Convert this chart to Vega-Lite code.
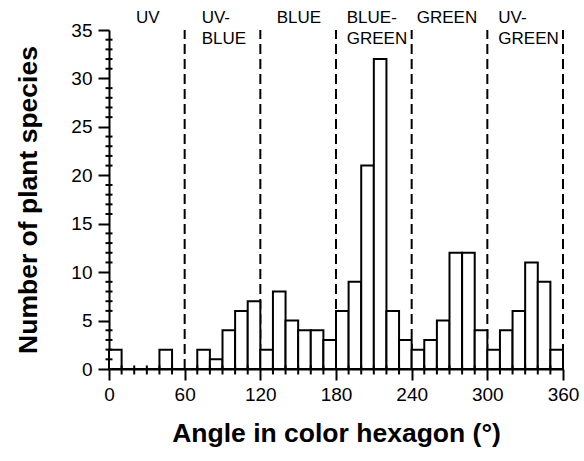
{
  "$schema": "https://vega.github.io/schema/vega-lite/v6.json",
  "width": 454,
  "height": 339,
  "autosize": "none",
  "padding": {"left": 109, "top": 30, "right": 21, "bottom": 92},
  "background": "white",
  "config": {
    "view": {"stroke": null},
    "font": "Liberation Sans",
    "axis": {
      "tickSize": 11, "tickColor": "black", "tickWidth": 2,
      "domainColor": "black", "domainWidth": 2,
      "labelFontSize": 19, "labelColor": "black", "labelFlush": false, "labelOverlap": false,
      "titleFontSize": 26.5, "titleFontWeight": "bold", "titleColor": "black",
      "grid": false
    },
    "axisX": {"labelPadding": 5, "titlePadding": 16},
    "axisY": {"labelPadding": 6, "titlePadding": 28}
  },
  "datasets": {
    "bins": [
      {"start": 0, "end": 10, "count": 2}, {"start": 10, "end": 20, "count": 0},
      {"start": 20, "end": 30, "count": 0}, {"start": 30, "end": 40, "count": 0},
      {"start": 40, "end": 50, "count": 2}, {"start": 50, "end": 60, "count": 0},
      {"start": 60, "end": 70, "count": 0}, {"start": 70, "end": 80, "count": 2},
      {"start": 80, "end": 90, "count": 1}, {"start": 90, "end": 100, "count": 4},
      {"start": 100, "end": 110, "count": 6}, {"start": 110, "end": 120, "count": 7},
      {"start": 120, "end": 130, "count": 2}, {"start": 130, "end": 140, "count": 8},
      {"start": 140, "end": 150, "count": 5}, {"start": 150, "end": 160, "count": 4},
      {"start": 160, "end": 170, "count": 4}, {"start": 170, "end": 180, "count": 3},
      {"start": 180, "end": 190, "count": 6}, {"start": 190, "end": 200, "count": 9},
      {"start": 200, "end": 210, "count": 21}, {"start": 210, "end": 220, "count": 32},
      {"start": 220, "end": 230, "count": 6}, {"start": 230, "end": 240, "count": 3},
      {"start": 240, "end": 250, "count": 2}, {"start": 250, "end": 260, "count": 3},
      {"start": 260, "end": 270, "count": 5}, {"start": 270, "end": 280, "count": 12},
      {"start": 280, "end": 290, "count": 12}, {"start": 290, "end": 300, "count": 4},
      {"start": 300, "end": 310, "count": 2}, {"start": 310, "end": 320, "count": 4},
      {"start": 320, "end": 330, "count": 6}, {"start": 330, "end": 340, "count": 11},
      {"start": 340, "end": 350, "count": 9}, {"start": 350, "end": 360, "count": 2}
    ],
    "dividers": [
      {"angle": 60}, {"angle": 120}, {"angle": 180}, {"angle": 240}, {"angle": 300}, {"angle": 360}
    ],
    "xminor": [
      {"angle": 10}, {"angle": 20}, {"angle": 30}, {"angle": 40}, {"angle": 50},
      {"angle": 70}, {"angle": 80}, {"angle": 90}, {"angle": 100}, {"angle": 110},
      {"angle": 130}, {"angle": 140}, {"angle": 150}, {"angle": 160}, {"angle": 170},
      {"angle": 190}, {"angle": 200}, {"angle": 210}, {"angle": 220}, {"angle": 230},
      {"angle": 250}, {"angle": 260}, {"angle": 270}, {"angle": 280}, {"angle": 290},
      {"angle": 310}, {"angle": 320}, {"angle": 330}, {"angle": 340}, {"angle": 350}
    ],
    "yminor": [
      {"n": 1}, {"n": 2}, {"n": 3}, {"n": 4}, {"n": 6}, {"n": 7}, {"n": 8}, {"n": 9},
      {"n": 11}, {"n": 12}, {"n": 13}, {"n": 14}, {"n": 16}, {"n": 17}, {"n": 18}, {"n": 19},
      {"n": 21}, {"n": 22}, {"n": 23}, {"n": 24}, {"n": 26}, {"n": 27}, {"n": 28}, {"n": 29},
      {"n": 31}, {"n": 32}, {"n": 33}, {"n": 34}
    ],
    "regions": [
      {"pos": 21.4, "name": "UV"},
      {"pos": 73.5, "name": "UV-\nBLUE"},
      {"pos": 133, "name": "BLUE"},
      {"pos": 188.5, "name": "BLUE-\nGREEN"},
      {"pos": 244, "name": "GREEN"},
      {"pos": 308.7, "name": "UV-\nGREEN"}
    ]
  },
  "layer": [
    {
      "data": {"name": "dividers"},
      "mark": {"type": "rule", "color": "black", "strokeWidth": 2, "strokeDash": [10, 5]},
      "encoding": {
        "x": {
          "field": "angle", "type": "quantitative",
          "scale": {"domain": [0, 360], "nice": false},
          "title": "Angle in color hexagon (°)",
          "axis": {"values": [0, 60, 120, 180, 240, 300, 360]}
        },
        "y": {
          "datum": 0, "type": "quantitative",
          "scale": {"domain": [0, 35], "nice": false},
          "title": "Number of plant species",
          "axis": {"values": [0, 5, 10, 15, 20, 25, 30, 35]}
        },
        "y2": {"datum": 35}
      }
    },
    {
      "data": {"name": "bins"},
      "mark": {"type": "rect", "fill": "white", "stroke": "black", "strokeWidth": 2},
      "encoding": {
        "x": {"field": "start", "type": "quantitative", "title": "Angle in color hexagon (°)"},
        "x2": {"field": "end"},
        "y": {"field": "count", "type": "quantitative", "title": "Number of plant species"},
        "y2": {"datum": 0}
      }
    },
    {
      "data": {"name": "xminor"},
      "mark": {"type": "tick", "orient": "vertical", "color": "black", "size": 9, "thickness": 2, "opacity": 1, "clip": false},
      "encoding": {
        "x": {"field": "angle", "type": "quantitative", "title": "Angle in color hexagon (°)"},
        "y": {"datum": -0.1, "type": "quantitative", "title": "Number of plant species"}
      }
    },
    {
      "data": {"name": "yminor"},
      "mark": {"type": "tick", "orient": "horizontal", "color": "black", "size": 7, "thickness": 2, "opacity": 1, "clip": false},
      "encoding": {
        "y": {"field": "n", "type": "quantitative", "title": "Number of plant species"},
        "x": {"datum": 0, "type": "quantitative", "title": "Angle in color hexagon (°)"}
      }
    },
    {
      "data": {"name": "regions"},
      "mark": {"type": "text", "align": "left", "baseline": "top", "fontSize": 17, "lineBreak": "\n", "lineHeight": 21, "color": "black", "clip": false},
      "encoding": {
        "x": {"field": "pos", "type": "quantitative", "title": "Angle in color hexagon (°)"},
        "y": {"datum": 37.1, "type": "quantitative", "title": "Number of plant species"},
        "text": {"field": "name"}
      }
    }
  ]
}
